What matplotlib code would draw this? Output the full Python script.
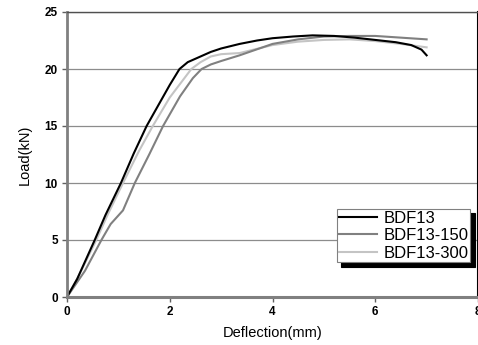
import matplotlib
matplotlib.use("Agg")
import matplotlib.pyplot as plt

plt.rcParams["font.family"] = ["Liberation Sans", "DejaVu Sans"]

# load-deflection curves
bdf13_x = [0, 0.2, 0.54, 0.75, 1.05, 1.3, 1.55, 1.8, 2.0, 2.19, 2.35, 2.6, 2.8, 3.0,
           3.36, 3.7, 4.0, 4.4, 4.78, 5.2, 5.6, 6.0, 6.4, 6.7, 6.9, 7.0]
bdf13_y = [0, 1.6, 5.0, 7.2, 10.0, 12.6, 15.0, 17.0, 18.6, 20.0, 20.6, 21.1, 21.5, 21.8,
           22.2, 22.5, 22.7, 22.85, 22.95, 22.9, 22.75, 22.55, 22.35, 22.1, 21.7, 21.2]

bdf13_150_x = [0, 0.35, 0.67, 0.85, 1.09, 1.32, 1.6, 1.87, 2.2, 2.45, 2.62, 2.8, 3.0,
               3.36, 4.0, 4.5, 5.0, 5.5, 6.0, 6.5, 7.0]
bdf13_150_y = [0, 2.3, 5.0, 6.4, 7.6, 10.0, 12.5, 15.0, 17.6, 19.2, 20.0, 20.4, 20.7,
               21.2, 22.2, 22.6, 22.85, 22.9, 22.9, 22.75, 22.6]

bdf13_300_x = [0, 0.2, 0.57, 0.8, 1.09, 1.4, 1.67, 2.0, 2.42, 2.6, 2.8, 3.0, 3.36,
               4.0, 4.5, 5.0, 5.5, 6.0, 6.5, 7.0]
bdf13_300_y = [0, 1.6, 5.0, 7.3, 10.0, 12.8, 15.0, 17.5, 20.0, 20.6, 21.1, 21.3, 21.4,
               22.1, 22.4, 22.55, 22.6, 22.45, 22.2, 21.9]

labels = ["BDF13", "BDF13-150", "BDF13-300"]
colors = ["black", "#808080", "#c4c4c4"]
x_ticks = [0, 2, 4, 6, 8]
y_ticks = [0, 5, 10, 15, 20, 25]

fig = plt.figure(figsize=(4.78, 3.45), dpi=100)
ax = fig.add_axes([67 / 478, 1 - 297 / 345, 411 / 478, 285 / 345])

series = [(bdf13_x, bdf13_y), (bdf13_150_x, bdf13_150_y), (bdf13_300_x, bdf13_300_y)]
# draw light curves first so black sits on top
for (xs, ys), lab, col in reversed(list(zip(series, labels, colors))):
    ax.plot(xs, ys, color=col, lw=1.5, label=lab)

ax.set_xlim(0, 8)
ax.set_ylim(0, 25)
ax.set_xticks(x_ticks)
ax.set_yticks(y_ticks)
ax.yaxis.grid(True, color="#8c8c8c", lw=0.9)
ax.set_axisbelow(True)
ax.tick_params(length=3.5, width=1, color="#606060", labelsize=8.5, pad=3)
for t in ax.get_xticklabels() + ax.get_yticklabels():
    t.set_fontweight("bold")

ax.spines["left"].set_color("#808080")
ax.spines["left"].set_linewidth(2)
ax.spines["bottom"].set_color("#808080")
ax.spines["bottom"].set_linewidth(2.2)
ax.spines["top"].set_color("#505050")
ax.spines["top"].set_linewidth(1)
ax.spines["right"].set_color("black")
ax.spines["right"].set_linewidth(1.5)

ax.set_xlabel("Deflection(mm)", fontsize=10.5, labelpad=6)
ax.set_ylabel("Load(kN)", fontsize=10.5, labelpad=9)

handles, labs = ax.get_legend_handles_labels()
handles, labs = handles[::-1], labs[::-1]
leg = ax.legend(handles, labs, loc="upper left", bbox_to_anchor=(337 / 478, 1 - 209 / 345),
                bbox_transform=fig.transFigure, fontsize=12, frameon=True, fancybox=False,
                borderpad=0.1, labelspacing=0.15, handlelength=2.3, handletextpad=0.4,
                borderaxespad=0,
                shadow={"color": "black", "alpha": 1, "ox": 3, "oy": -3})
leg.get_frame().set_edgecolor("#808080")
leg.get_frame().set_linewidth(0.8)

fig.savefig("out.png", dpi=100)
